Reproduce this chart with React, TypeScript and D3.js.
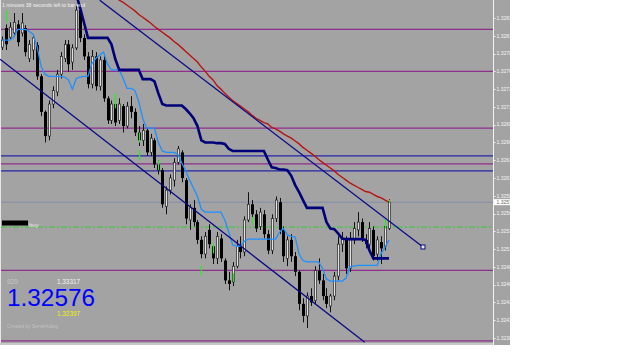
import React from "react";
import * as d3 from "d3";

// ---- candle data (one bar per slot) ----
const opens = [
  1.32794, 1.32821, 1.32808, 1.32814, 1.32826, 1.32814, 1.32821, 1.32778, 1.32790, 1.32797,
  1.32753, 1.32703, 1.32669, 1.32714, 1.32731, 1.32756, 1.32778, 1.32798, 1.32773, 1.32793,
  1.32846, 1.32807, 1.32781, 1.32742, 1.32781, 1.32739, 1.32776, 1.32722, 1.32691, 1.32714,
  1.32691, 1.32711, 1.32683, 1.32711, 1.32703, 1.32674, 1.32663, 1.32677, 1.32646, 1.32663,
  1.32629, 1.32621, 1.32570, 1.32593, 1.32607, 1.32632, 1.32646, 1.32607, 1.32551, 1.32568,
  1.32548, 1.32523, 1.32503, 1.32537, 1.32514, 1.32497, 1.32525, 1.32494, 1.32466, 1.32464,
  1.32486, 1.32514, 1.32506, 1.32551, 1.32573, 1.32559, 1.32542, 1.32559, 1.32531, 1.32508,
  1.32553, 1.32576, 1.32537, 1.32497, 1.32523, 1.32500, 1.32478, 1.32433, 1.32416, 1.32444,
  1.32438, 1.32480, 1.32466, 1.32444, 1.32430, 1.32444, 1.32472, 1.32517, 1.32523, 1.32483,
  1.32523, 1.32537, 1.32548, 1.32523, 1.32517, 1.32537, 1.32503, 1.32520, 1.32514, 1.32539,
];
const highs = [
  1.32809, 1.32826, 1.32829, 1.32842, 1.32832, 1.32842, 1.32825, 1.32804, 1.32811, 1.32801,
  1.32756, 1.32705, 1.32719, 1.32739, 1.32762, 1.32787, 1.32804, 1.32804, 1.32798, 1.32852,
  1.32854, 1.32812, 1.32787, 1.32790, 1.32787, 1.32781, 1.32781, 1.32725, 1.32719, 1.32719,
  1.32722, 1.32714, 1.32717, 1.32725, 1.32708, 1.32683, 1.32686, 1.32680, 1.32672, 1.32666,
  1.32635, 1.32624, 1.32598, 1.32615, 1.32638, 1.32655, 1.32649, 1.32610, 1.32573, 1.32579,
  1.32551, 1.32528, 1.32534, 1.32545, 1.32517, 1.32534, 1.32531, 1.32497, 1.32478, 1.32492,
  1.32523, 1.32528, 1.32556, 1.32590, 1.32579, 1.32565, 1.32568, 1.32565, 1.32537, 1.32559,
  1.32584, 1.32582, 1.32542, 1.32528, 1.32531, 1.32506, 1.32480, 1.32441, 1.32449, 1.32455,
  1.32486, 1.32497, 1.32475, 1.32455, 1.32447, 1.32478, 1.32528, 1.32534, 1.32528, 1.32534,
  1.32548, 1.32562, 1.32553, 1.32531, 1.32548, 1.32542, 1.32528, 1.32528, 1.32553, 1.32580,
];
const lows = [
  1.32790, 1.32790, 1.32804, 1.32809, 1.32795, 1.32809, 1.32781, 1.32773, 1.32776, 1.32748,
  1.32697, 1.32660, 1.32663, 1.32708, 1.32725, 1.32750, 1.32773, 1.32759, 1.32762, 1.32790,
  1.32801, 1.32776, 1.32736, 1.32736, 1.32733, 1.32733, 1.32717, 1.32686, 1.32686, 1.32683,
  1.32686, 1.32674, 1.32680, 1.32694, 1.32669, 1.32655, 1.32655, 1.32641, 1.32641, 1.32624,
  1.32615, 1.32568, 1.32559, 1.32587, 1.32598, 1.32629, 1.32604, 1.32545, 1.32537, 1.32542,
  1.32517, 1.32497, 1.32497, 1.32511, 1.32489, 1.32489, 1.32492, 1.32461, 1.32452, 1.32458,
  1.32483, 1.32497, 1.32500, 1.32548, 1.32551, 1.32534, 1.32537, 1.32525, 1.32503, 1.32503,
  1.32548, 1.32531, 1.32492, 1.32486, 1.32492, 1.32472, 1.32424, 1.32407, 1.32399, 1.32430,
  1.32433, 1.32461, 1.32438, 1.32427, 1.32421, 1.32438, 1.32466, 1.32506, 1.32475, 1.32478,
  1.32517, 1.32528, 1.32520, 1.32511, 1.32506, 1.32494, 1.32494, 1.32489, 1.32508, 1.32537,
];
const closes = [
  1.32804, 1.32798, 1.32822, 1.32829, 1.32801, 1.32828, 1.32787, 1.32798, 1.32807, 1.32753,
  1.32703, 1.32669, 1.32714, 1.32733, 1.32756, 1.32781, 1.32798, 1.32770, 1.32793, 1.32846,
  1.32807, 1.32781, 1.32742, 1.32781, 1.32739, 1.32776, 1.32722, 1.32691, 1.32714, 1.32688,
  1.32714, 1.32683, 1.32711, 1.32703, 1.32674, 1.32663, 1.32677, 1.32646, 1.32666, 1.32629,
  1.32621, 1.32573, 1.32593, 1.32610, 1.32632, 1.32651, 1.32610, 1.32553, 1.32568, 1.32548,
  1.32523, 1.32503, 1.32528, 1.32517, 1.32497, 1.32528, 1.32497, 1.32466, 1.32461, 1.32486,
  1.32514, 1.32506, 1.32551, 1.32573, 1.32559, 1.32539, 1.32562, 1.32531, 1.32508, 1.32553,
  1.32579, 1.32537, 1.32500, 1.32523, 1.32500, 1.32478, 1.32433, 1.32416, 1.32444, 1.32435,
  1.32480, 1.32466, 1.32444, 1.32433, 1.32444, 1.32472, 1.32517, 1.32525, 1.32483, 1.32523,
  1.32539, 1.32548, 1.32525, 1.32517, 1.32539, 1.32500, 1.32523, 1.32511, 1.32542, 1.32576,
];

// ---- indicator lines ----
const slowLine: (number | null)[] = [
  null, null, null, null, null, null, null, null, null, null,
  null, null, null, null, null, null, null, 1.32911, 1.32890, 1.32868,
  1.32849, 1.32828, 1.32807, 1.32807, 1.32807, 1.32807, 1.32807, 1.32807, 1.32798, 1.32777,
  1.32762, 1.32762, 1.32762, 1.32762, 1.32762, 1.32762, 1.32749, 1.32749, 1.32749, 1.32746,
  1.32729, 1.32714, 1.32712, 1.32712, 1.32712, 1.32712, 1.32712, 1.32707, 1.32701, 1.32694,
  1.32683, 1.32663, 1.32660, 1.32660, 1.32660, 1.32659, 1.32659, 1.32658, 1.32651, 1.32648,
  1.32648, 1.32648, 1.32648, 1.32648, 1.32648, 1.32648, 1.32648, 1.32648, 1.32636, 1.32625,
  1.32624, 1.32622, 1.32622, 1.32621, 1.32613, 1.32600, 1.32590, 1.32579, 1.32568, 1.32568,
  1.32568, 1.32568, 1.32568, 1.32548, 1.32539, 1.32538, 1.32532, 1.32525, 1.32524, 1.32524,
  1.32524, 1.32524, 1.32524, 1.32523, 1.32508, 1.32497, 1.32497, 1.32497, 1.32497, 1.32497,
];
const fastLine = [
  1.32804, 1.32804, 1.32804, 1.32808, 1.32819, 1.32819, 1.32819, 1.32816, 1.32812, 1.32794,
  1.32767, 1.32756, 1.32753, 1.32753, 1.32753, 1.32753, 1.32752, 1.32748, 1.32735, 1.32750,
  1.32752, 1.32753, 1.32753, 1.32771, 1.32778, 1.32783, 1.32787, 1.32770, 1.32762, 1.32762,
  1.32762, 1.32750, 1.32736, 1.32736, 1.32733, 1.32717, 1.32694, 1.32680, 1.32680, 1.32680,
  1.32660, 1.32648, 1.32646, 1.32646, 1.32646, 1.32643, 1.32631, 1.32620, 1.32607, 1.32596,
  1.32584, 1.32566, 1.32562, 1.32562, 1.32562, 1.32562, 1.32562, 1.32551, 1.32534, 1.32516,
  1.32514, 1.32514, 1.32521, 1.32524, 1.32524, 1.32524, 1.32524, 1.32524, 1.32524, 1.32524,
  1.32524, 1.32534, 1.32539, 1.32530, 1.32528, 1.32527, 1.32503, 1.32494, 1.32492, 1.32492,
  1.32492, 1.32492, 1.32483, 1.32468, 1.32465, 1.32465, 1.32465, 1.32465, 1.32469, 1.32485,
  1.32486, 1.32487, 1.32487, 1.32487, 1.32487, 1.32487, 1.32487, 1.32504, 1.32513, 1.32523,
];
const maLine: (number | null)[] = [
  null, null, null, null, null, null, null, null, null, null,
  null, null, null, null, null, null, null, null, null, null,
  null, null, null, null, null, 1.32881, 1.32877, 1.32873, 1.32868, 1.32864,
  1.32860, 1.32857, 1.32853, 1.32849, 1.32845, 1.32840, 1.32836, 1.32832, 1.32828, 1.32823,
  1.32819, 1.32815, 1.32811, 1.32807, 1.32802, 1.32798, 1.32793, 1.32788, 1.32783, 1.32778,
  1.32773, 1.32766, 1.32760, 1.32753, 1.32748, 1.32740, 1.32735, 1.32729, 1.32724, 1.32719,
  1.32715, 1.32711, 1.32707, 1.32703, 1.32698, 1.32694, 1.32691, 1.32688, 1.32686, 1.32681,
  1.32679, 1.32676, 1.32672, 1.32669, 1.32666, 1.32662, 1.32658, 1.32653, 1.32649, 1.32645,
  1.32641, 1.32636, 1.32632, 1.32628, 1.32624, 1.32620, 1.32615, 1.32611, 1.32607, 1.32603,
  1.32600, 1.32597, 1.32594, 1.32591, 1.32590, 1.32587, 1.32584, 1.32582, 1.32579, 1.32576,
];

// green signal bars: [bar, low, high]
const signalBars = [
  [1, 1.32829, 1.32846], [29, 1.32708, 1.32729], [35, 1.32660, 1.32674], [35, 1.32635, 1.32649],
  [40, 1.32621, 1.32635], [51, 1.32473, 1.32487], [54, 1.32504, 1.32518], [59, 1.32464, 1.32476],
  [64, 1.32544, 1.32555], [98, 1.32539, 1.32553], [99, 1.32575, 1.32579],
];

// horizontal levels
const purpleLevels = [1.32819, 1.32760, 1.32680, 1.32630, 1.32480, 1.32381];
const blueLevels = [1.32641, 1.32620];
const currentPrice = 1.32576;
const buyLevel = 1.32541;

// channel trend lines: [bar, price]
const upperTrend = [[25, 1.32860], [107.7, 1.32513]];
const lowerTrend = [[-0.5, 1.32777], [92.8, 1.32379]];

// price axis ticks
const tickValues = [
  1.32835, 1.32810, 1.32785, 1.32760, 1.32735, 1.32710, 1.32685, 1.32660, 1.32635, 1.32610,
  1.32585, 1.32560, 1.32535, 1.32510, 1.32485, 1.32460, 1.32435, 1.32410, 1.32385,
];

// info panel texts
const topInfo = "1 minutes 38 seconds left to bar end";
const spreadText = "920";
const dayHigh = "1.33317";
const bigPrice = "1.32576";
const dayLow = "1.32397";
const creditText = "Created by ServerUang";
const buyText = "buy";

const PLOT_R = 493;
const PLOT_B = 343;
const AXIS_R = 510;

export default function App() {
  const x = d3.scaleLinear().domain([0, 99]).range([2, 389]);
  const y = d3.scaleLinear().domain([1.32385, 1.32835]).range([338, 18]);
  const idx = d3.range(opens.length);

  const mkLine = (arr: (number | null)[]) =>
    d3
      .line<number>()
      .defined((i) => arr[i] != null)
      .x((i) => x(i))
      .y((i) => y(arr[i] as number))(idx) || "";

  const trendPath = (pts: number[][]) =>
    d3
      .line<number[]>()
      .x((p) => x(p[0]))
      .y((p) => y(p[1]))(pts) || "";

  const fmt = d3.format(".5f");
  const sqX = x(upperTrend[1][0]);
  const sqY = y(upperTrend[1][1]);

  return (
    <svg
      width={625}
      height={352}
      style={{ position: "fixed", left: 0, top: 0, background: "#fff" }}
      fontFamily="'Liberation Sans', Arial, sans-serif"
    >
      <defs>
        <clipPath id="plot">
          <rect x={0} y={0} width={PLOT_R} height={PLOT_B} />
        </clipPath>
        <clipPath id="axis">
          <rect x={494} y={0} width={AXIS_R - 494} height={PLOT_B + 1} />
        </clipPath>
      </defs>

      {/* backgrounds */}
      <rect x={0} y={0} width={PLOT_R} height={PLOT_B} fill="#a3a3a3" />
      <rect x={PLOT_R} y={0} width={AXIS_R - PLOT_R} height={PLOT_B + 2} fill="#a3a3a3" />
      <rect x={0} y={PLOT_B} width={PLOT_R} height={2} fill="#c8c8c8" />
      <line x1={PLOT_R + 0.5} x2={PLOT_R + 0.5} y1={0} y2={PLOT_B + 2} stroke="#f2f2f2" strokeWidth={1} />
      <line x1={0.5} x2={0.5} y1={0} y2={PLOT_B} stroke="#e6e6e6" strokeWidth={1} />

      <g clipPath="url(#plot)">
        {/* horizontal levels */}
        {purpleLevels.map((p, k) => (
          <line key={"pl" + k} x1={1} x2={PLOT_R} y1={y(p)} y2={y(p)} stroke="#8e2f8e" strokeWidth={1.3} />
        ))}
        {blueLevels.map((p, k) => (
          <line key={"bl" + k} x1={1} x2={PLOT_R} y1={y(p)} y2={y(p)} stroke="#2626a6" strokeWidth={1.3} />
        ))}
        <line x1={1} x2={PLOT_R} y1={y(currentPrice)} y2={y(currentPrice)} stroke="#7e8ea8" strokeWidth={1} />
        <line
          x1={1}
          x2={PLOT_R}
          y1={y(buyLevel)}
          y2={y(buyLevel)}
          stroke="#33cc33"
          strokeWidth={1}
          strokeDasharray="6,2,2,2"
        />

        {/* candles */}
        {idx.map((i) => {
          const px = Math.round(x(i));
          const o = y(opens[i]);
          const c = y(closes[i]);
          const top = Math.min(o, c);
          const h = Math.max(1, Math.abs(c - o));
          const bull = closes[i] >= opens[i];
          return (
            <g key={"c" + i}>
              <line x1={px + 0.5} x2={px + 0.5} y1={y(highs[i])} y2={y(lows[i])} stroke="#111" strokeWidth={1} />
              {bull ? (
                <rect x={px - 0.6} y={top} width={2.2} height={h} fill="#e2e2e2" stroke="#222" strokeWidth={0.7} />
              ) : (
                <rect x={px - 1} y={top} width={3} height={h} fill="#000" />
              )}
            </g>
          );
        })}

        {/* green signal bars */}
        {signalBars.map((s, k) => (
          <line
            key={"s" + k}
            x1={Math.round(x(s[0])) + 0.5}
            x2={Math.round(x(s[0])) + 0.5}
            y1={y(s[2])}
            y2={y(s[1])}
            stroke="#22ee22"
            strokeWidth={1.2}
          />
        ))}

        {/* indicator lines */}
        <path d={mkLine(fastLine)} fill="none" stroke="#1e90ff" strokeWidth={1.3} />
        <path d={mkLine(slowLine)} fill="none" stroke="#00007a" strokeWidth={2.6} />
        <path d={mkLine(maLine)} fill="none" stroke="#b81414" strokeWidth={1.4} />

        {/* channel */}
        <path d={trendPath(upperTrend)} fill="none" stroke="#0a0a86" strokeWidth={1.3} />
        <path d={trendPath(lowerTrend)} fill="none" stroke="#0a0a86" strokeWidth={1.3} />
        <rect x={sqX - 2} y={sqY - 2} width={4} height={4} fill="#e8e8e8" stroke="#0a0a86" strokeWidth={1} />

        {/* texts */}
        <text x={2} y={6.5} fontSize={5} fill="#f2f2f2" textLength={83} lengthAdjust="spacingAndGlyphs">
          {topInfo}
        </text>
        <rect x={2} y={220.5} width={26} height={5} fill="#000" />
        <text x={29} y={226.5} fontSize={6} fill="#e8e8e8">
          {buyText}
        </text>
        <text x={7} y={283.5} fontSize={6.5} fill="#c9c9c9">
          {spreadText}
        </text>
        <text x={57} y={283.5} fontSize={6.5} fill="#f4f4f4" textLength={23} lengthAdjust="spacingAndGlyphs">
          {dayHigh}
        </text>
        <text x={7} y={305.5} fontSize={23} fill="#0000ff" textLength={88} lengthAdjust="spacingAndGlyphs">
          {bigPrice}
        </text>
        <text x={57} y={316} fontSize={6.5} fill="#f0f000" textLength={23} lengthAdjust="spacingAndGlyphs">
          {dayLow}
        </text>
        <text x={7} y={328} fontSize={5} fill="#c2c2c2" textLength={51} lengthAdjust="spacingAndGlyphs">
          {creditText}
        </text>
      </g>

      {/* price axis */}
      <g clipPath="url(#axis)">
        {tickValues.map((t, k) => (
          <g key={"t" + k}>
            <line x1={PLOT_R} x2={495.5} y1={Math.round(y(t)) + 0.5} y2={Math.round(y(t)) + 0.5} stroke="#f0f0f0" />
            <text x={496.5} y={y(t) + 1.8} fontSize={5} fill="#f4f4f4">
              {fmt(t)}
            </text>
          </g>
        ))}
        <rect x={494} y={y(currentPrice) - 3} width={16} height={6} fill="#ffffff" />
        <text x={496.5} y={y(currentPrice) + 1.8} fontSize={5} fill="#666">
          {fmt(currentPrice)}
        </text>
      </g>
    </svg>
  );
}
